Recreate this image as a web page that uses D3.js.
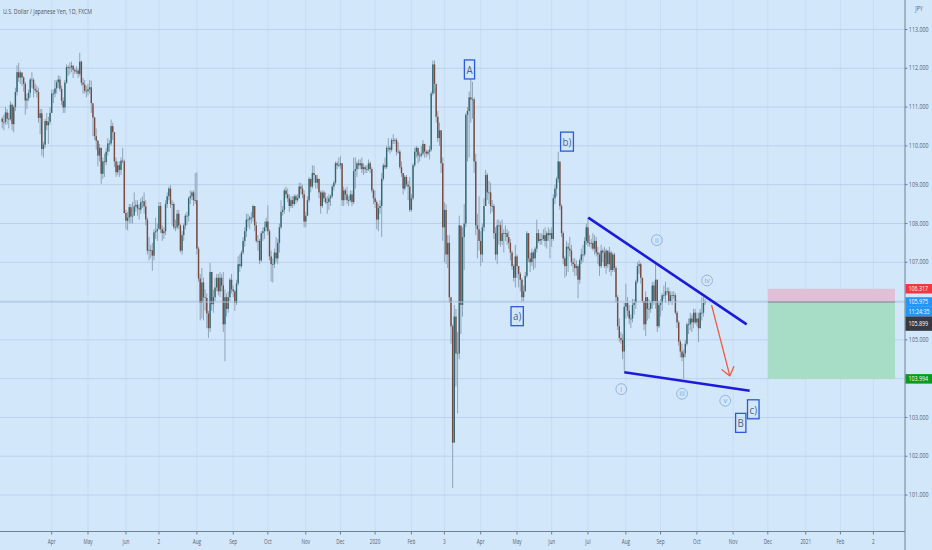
<!DOCTYPE html>
<html>
<head>
<meta charset="utf-8">
<script src="https://cdn.jsdelivr.net/npm/d3@7"></script>
<style>
  html, body { margin: 0; padding: 0; background: #d3e7fb; overflow: hidden; }
  text { font-family: "Open Sans", "Noto Sans", sans-serif; }
</style>
</head>
<body>
<svg id="chart" width="932" height="550"></svg>
<script>
// USD/JPY daily bars, FXCM, Feb 18 2019 -> Oct 8 2020 (one value per trading day)
const firstOpen = 110.70;
const closes = [
  110.62,110.62,110.86,110.70,110.69,111.06,110.56,111.00,111.39,
  111.90,111.76,111.89,111.76,111.60,111.17,111.22,111.37,111.71,111.70,111.47,111.43,111.39,110.72,110.84,109.92,110.03,110.64,110.53,110.62,110.85,
  111.35,111.35,111.48,111.64,111.71,111.47,111.16,110.99,111.63,112.03,112.02,112.02,112.07,111.96,111.92,111.94,111.86,112.17,111.63,111.58,111.42,111.41,
  111.46,111.51,111.10,110.73,110.25,110.13,109.75,109.95,109.28,109.60,109.58,109.85,110.06,110.06,110.51,110.35,109.60,109.32,109.50,109.38,109.62,109.60,108.27,
  108.07,108.15,108.42,108.18,108.20,108.44,108.48,108.39,108.36,108.55,108.57,108.44,108.10,107.30,107.32,107.31,107.17,107.77,107.80,107.85,
  108.45,107.85,107.75,107.80,108.50,108.70,108.90,108.50,108.50,107.90,107.90,108.25,107.95,107.30,107.70,107.95,108.20,108.20,108.65,108.70,108.80,108.60,108.60,
  107.35,106.58,105.95,106.48,106.10,106.08,105.68,105.30,106.75,105.92,106.10,106.35,106.60,106.25,106.60,106.40,105.40,106.10,105.80,106.10,106.55,106.30,
  106.25,105.95,106.45,106.95,106.90,107.25,107.55,107.80,108.10,108.10,108.15,108.15,108.45,107.95,107.55,107.55,107.05,107.75,107.80,107.90,108.05,
  107.80,107.15,106.95,106.95,107.25,107.10,107.50,107.90,108.30,108.35,108.85,108.75,108.65,108.45,108.60,108.50,108.70,108.60,108.65,108.95,108.90,108.75,108.05,
  108.20,108.60,109.15,108.95,109.30,109.25,109.05,109.15,108.80,108.45,108.80,108.65,108.55,108.55,108.65,108.70,108.95,109.05,109.55,109.50,109.50,
  109.55,108.60,108.85,108.75,108.60,108.60,108.75,108.55,109.35,109.40,109.55,109.50,109.55,109.40,109.45,109.40,109.40,109.55,109.40,108.85,108.65,
  108.55,108.10,108.40,108.45,109.15,109.50,109.45,109.95,109.95,109.90,110.15,110.15,110.15,109.85,109.85,109.45,109.30,108.90,109.20,109.00,108.95,108.35,
  108.65,109.50,109.85,109.95,109.75,109.75,109.80,110.05,109.85,109.80,109.85,109.90,111.35,112.10,111.60,110.75,110.20,110.40,109.55,107.90,
  108.35,107.20,107.50,106.10,105.35,102.35,105.60,104.65,104.65,107.95,105.90,107.65,108.00,110.80,110.90,111.25,111.20,111.20,109.60,107.95,107.85,107.55,
  107.20,107.90,108.45,109.25,108.80,108.80,108.45,108.45,107.75,107.20,107.95,107.95,107.55,107.75,107.75,107.75,107.65,107.50,107.25,106.90,106.60,107.15,
  106.90,106.70,106.55,106.10,106.25,106.65,107.75,107.10,107.00,107.25,107.10,107.35,107.75,107.55,107.60,107.60,107.70,107.55,107.75,107.70,107.75,
  107.60,108.65,108.90,109.15,109.60,108.45,107.75,107.10,106.90,107.40,107.35,107.30,107.00,106.95,106.85,106.90,106.55,107.05,107.20,107.20,107.55,107.90,
  107.50,107.50,107.50,107.35,107.55,107.25,107.20,106.90,107.30,107.25,106.90,107.30,106.95,107.25,106.80,107.20,106.85,106.10,105.35,105.05,105.00,104.70,105.85,
  105.95,105.75,105.55,105.55,105.90,105.95,106.50,106.90,106.95,106.60,106.00,105.40,106.10,105.80,105.80,105.95,106.40,106.00,106.55,105.35,105.90,
  105.95,106.15,106.15,106.25,106.25,106.00,106.15,106.15,106.15,105.70,105.45,104.95,104.70,104.55,104.65,104.90,105.40,105.40,105.55,105.45,105.70,105.45,
  105.55,105.30,105.70,105.70,105.95,105.975
];
const highs = [
  110.75,110.80,111.00,110.95,110.85,111.15,111.10,111.05,111.50,
  112.08,112.14,111.95,111.90,111.80,111.65,111.35,111.45,111.75,111.90,111.75,111.60,111.55,111.50,110.95,110.95,110.10,110.70,110.85,110.75,111.00,
  111.45,111.45,111.70,111.70,111.82,111.80,111.55,111.25,111.70,112.10,112.08,112.15,112.17,112.05,112.00,112.05,112.00,112.40,112.20,111.75,111.70,111.55,
  111.60,111.70,111.68,111.00,110.75,110.45,110.15,110.05,109.95,109.70,109.80,109.95,110.20,110.15,110.68,110.60,110.35,109.70,109.60,109.60,109.70,109.95,109.65,
  108.35,108.30,108.50,108.50,108.55,108.80,108.60,108.60,108.50,108.65,108.70,108.80,108.60,108.15,107.65,107.45,107.50,107.85,108.15,108.00,
  108.55,108.55,107.95,107.90,108.60,108.80,108.95,108.99,108.60,108.55,108.10,108.35,108.35,108.00,107.80,108.00,108.25,108.30,108.70,108.85,108.85,108.85,109.30,
  109.32,107.40,106.70,106.85,106.60,106.30,106.20,105.75,106.98,106.75,106.30,106.60,106.70,106.70,106.75,106.70,106.75,106.30,106.20,106.25,106.60,106.70,
  106.40,106.30,106.55,107.15,107.20,107.30,107.65,107.90,108.25,108.25,108.20,108.30,108.48,108.45,108.05,107.70,107.60,107.80,107.90,108.05,108.15,
  108.47,107.85,107.30,107.10,107.35,107.65,107.60,108.00,108.60,108.45,108.90,108.95,108.90,108.75,108.70,108.70,108.75,108.75,108.75,109.05,109.05,109.00,108.85,
  108.30,108.70,109.20,109.15,109.50,109.49,109.25,109.25,109.15,108.85,108.85,108.85,108.80,108.70,108.75,108.75,109.00,109.10,109.60,109.60,109.70,
  109.73,109.55,108.95,108.90,108.95,108.70,108.85,108.85,109.70,109.70,109.60,109.65,109.65,109.70,109.55,109.50,109.50,109.65,109.60,109.45,108.90,
  108.85,108.60,108.50,108.60,109.30,109.55,109.70,110.00,110.20,110.00,110.20,110.30,110.20,110.20,110.10,109.90,109.60,109.30,109.25,109.25,109.10,109.20,
  108.75,109.55,109.95,110.00,109.95,109.85,110.00,110.15,110.05,109.90,109.90,110.00,111.40,112.20,112.20,111.50,110.90,110.60,110.40,109.70,
  108.55,108.50,107.70,107.70,106.00,105.40,105.90,105.80,105.20,108.20,107.90,107.90,108.50,110.85,111.00,111.40,111.72,111.65,111.25,109.80,108.25,108.70,
  107.80,108.00,108.65,109.38,109.30,109.10,109.05,108.60,108.50,107.90,108.10,108.10,108.05,108.10,107.85,107.95,107.85,107.80,107.60,107.30,106.95,107.45,
  107.20,106.90,106.75,106.60,106.40,106.75,107.80,107.75,107.25,107.35,107.30,107.40,108.10,107.85,107.75,107.75,107.85,107.90,107.80,107.90,107.85,
  107.90,108.75,109.00,109.20,109.85,109.55,108.50,107.80,107.15,107.55,107.50,107.65,107.45,107.10,107.10,107.05,106.95,107.10,107.35,107.45,107.65,108.00,
  108.16,107.70,107.60,107.75,107.70,107.65,107.40,107.25,107.45,107.35,107.40,107.35,107.30,107.40,107.30,107.25,107.25,106.90,106.15,105.55,105.20,105.15,105.95,
  106.45,106.10,105.90,105.65,106.05,106.05,106.55,107.00,107.05,107.00,106.60,106.00,106.25,106.10,106.05,106.00,106.50,106.50,106.95,106.55,106.00,
  106.05,106.20,106.40,106.50,106.35,106.35,106.25,106.25,106.25,106.20,105.75,105.50,105.00,104.90,104.75,105.00,105.45,105.55,105.70,105.65,105.80,105.80,
  105.70,105.70,105.80,106.10,106.10,106.05
];
const lows = [
  110.45,110.40,110.55,110.55,110.45,110.65,110.40,110.35,110.90,
  111.30,111.65,111.60,111.55,111.40,110.80,110.95,111.15,111.25,111.50,111.25,111.35,111.25,110.60,110.30,109.75,109.70,109.95,110.40,110.05,110.55,
  110.85,111.10,111.25,111.35,111.50,111.40,111.05,110.85,110.85,111.60,111.80,111.85,111.90,111.75,111.85,111.85,111.75,111.80,111.55,111.35,111.35,111.25,
  111.30,111.35,110.85,110.25,110.15,109.90,109.47,109.60,109.02,109.15,109.20,109.50,109.75,109.85,110.00,110.15,109.45,109.20,109.25,109.20,109.25,109.55,108.25,
  107.85,107.82,108.00,108.00,108.00,108.30,108.30,108.20,108.10,108.25,108.40,108.25,107.95,107.20,107.05,107.10,106.78,107.05,107.60,107.55,
  107.90,107.75,107.55,107.60,107.70,108.40,108.60,108.40,107.95,107.85,107.80,107.85,107.85,107.25,107.20,107.55,107.85,107.95,108.05,108.50,108.60,108.45,108.50,
  107.20,106.50,105.50,105.55,105.50,105.75,105.30,105.05,105.20,105.75,105.70,106.00,106.25,106.15,106.10,106.25,105.20,104.45,105.60,105.70,106.00,106.20,
  106.10,105.75,105.90,106.40,106.75,106.85,107.20,107.40,107.65,107.90,107.85,108.00,108.05,107.80,107.50,107.30,106.95,107.00,107.55,107.60,107.80,
  107.70,107.05,106.50,106.48,106.85,107.00,106.95,107.25,107.85,108.20,108.25,108.65,108.55,108.30,108.40,108.40,108.45,108.50,108.55,108.65,108.75,108.65,107.90,
  107.90,108.20,108.55,108.80,108.90,109.05,108.90,108.90,108.65,108.25,108.40,108.55,108.50,108.25,108.35,108.45,108.65,108.85,109.00,109.40,109.45,
  109.40,108.45,108.45,108.60,108.50,108.45,108.55,108.45,108.50,108.90,109.20,109.40,109.40,109.30,109.25,109.30,109.30,109.35,109.30,108.80,108.50,
  108.40,107.85,107.80,108.25,107.65,109.10,109.40,109.40,109.85,109.80,109.85,110.05,110.05,109.75,109.80,109.40,109.20,108.75,108.85,108.95,108.60,108.30,
  108.30,108.60,109.45,109.70,109.55,109.60,109.70,109.75,109.70,109.70,109.75,109.65,109.85,111.30,111.35,110.60,110.10,110.00,109.30,107.55,
  107.00,106.95,106.85,105.95,104.90,101.18,102.50,103.80,103.10,104.50,105.15,105.60,106.80,107.90,109.60,109.70,110.60,110.70,109.30,107.70,107.10,107.30,
  106.90,107.00,107.80,108.45,108.60,108.50,108.25,108.30,107.60,107.05,106.95,107.45,107.40,107.45,107.25,107.55,107.45,107.35,107.05,106.80,106.50,106.35,
  106.60,106.35,106.25,105.98,106.00,106.25,106.60,107.00,106.75,106.90,106.80,106.85,107.25,107.50,107.45,107.45,107.55,107.40,107.35,107.55,107.10,
  107.40,107.55,108.50,108.70,109.05,108.35,107.65,106.95,106.60,106.65,106.75,107.15,106.90,106.75,106.65,106.65,106.07,106.45,106.95,107.00,107.15,107.45,
  107.40,107.40,107.35,107.30,107.20,107.15,106.95,106.65,106.85,107.00,106.85,106.70,106.85,106.75,106.65,106.75,106.75,105.95,105.25,104.95,104.90,104.50,104.19,
  105.55,105.60,105.40,105.30,105.45,105.65,105.80,106.45,106.70,106.45,105.95,105.25,105.10,105.50,105.55,105.70,105.80,105.90,105.80,105.20,105.30,
  105.60,105.75,106.05,105.95,106.15,105.90,105.95,105.90,106.05,105.65,105.30,104.85,104.55,104.45,104.00,104.55,104.85,105.15,105.25,105.20,105.30,105.40,
  105.35,104.94,105.30,105.50,105.60,105.90
];

// time axis: first trading day of each month, labels as printed
const monthTicks = [
  ["2019-04","Apr"],["2019-05","May"],["2019-06","Jun"],["2019-07","2"],["2019-08","Aug"],["2019-09","Sep"],
  ["2019-10","Oct"],["2019-11","Nov"],["2019-12","Dec"],["2020-01","2020"],["2020-02","Feb"],["2020-03","3"],
  ["2020-04","Apr"],["2020-05","May"],["2020-06","Jun"],["2020-07","Jul"],["2020-08","Aug"],["2020-09","Sep"],
  ["2020-10","Oct"],["2020-11","Nov"],["2020-12","Dec"],["2021-01","2021"],["2021-02","Feb"],["2021-03","2"]
];
const gridPrices = [101,102,103,104,105,106,107,108,109,110,111,112,113];
const priceTicks = [101,102,103,105,107,108,109,110,111,112,113];

// drawings, in bar index / price
const trendLines = [
  [[355.2,108.15],[451.2,105.40]],
  [[377.0,104.165],[453.0,103.69]]
];
const arrowPath = [[430.0,105.88],[441.0,104.07]];
const boxLabels = [
  {t:"A", i:283.2, p:111.97},
  {t:"b)", i:342.3, p:110.11},
  {t:"a)", i:312.1, p:105.61},
  {t:"B", i:447.6, p:102.86},
  {t:"c)", i:455.2, p:103.21}
];
const circleLabels = [
  {t:"ii", i:396.8, p:107.57},
  {t:"iv", i:427.2, p:106.53},
  {t:"i", i:375.2, p:103.73},
  {t:"iii", i:412.0, p:103.61},
  {t:"v", i:438.2, p:103.43}
];
const position = {from: 464.1, to: 541.1, stop: 106.317, entry: 105.975, target: 103.994};
const lastPrice = 105.975, countdown = "11:24:35", prevPrice = "105.899";

const barDomain = [-1.33, 547.15];
const priceDomain = [100.06, 113.76];

// trading days (weekdays, no Dec 25 / Jan 1 bars)
const skipDays = ["2019-12-25","2020-01-01"];
const days = [];
for (let d = new Date(Date.UTC(2019,1,18)); days.length < 560; d.setUTCDate(d.getUTCDate() + 1)) {
  const wd = d.getUTCDay();
  const key = d.toISOString().slice(0,10);
  if (wd === 0 || wd === 6 || skipDays.includes(key)) continue;
  days.push(key);
}

const plotW = 905, plotH = 531.5;
const svg = d3.select("#chart");
const x = d3.scaleLinear().domain(barDomain).range([0, plotW]);
const y = d3.scaleLinear().domain(priceDomain).range([plotH, 0]);

svg.append("rect").attr("width", 932).attr("height", 550).attr("fill", "#d3e7fb");

const monthIdx = monthTicks.map(([ym, label]) => ({i: days.findIndex(k => k.startsWith(ym)), label}));

// grid
svg.append("g").selectAll("line").data(monthIdx).join("line")
  .attr("x1", d => x(d.i)).attr("x2", d => x(d.i))
  .attr("y1", 0).attr("y2", plotH)
  .attr("stroke", "#c8ddf2").attr("stroke-width", 1);
svg.append("g").selectAll("line").data(gridPrices).join("line")
  .attr("x1", 0).attr("x2", plotW)
  .attr("y1", d => y(d)).attr("y2", d => y(d))
  .attr("stroke", "#bbd2ea").attr("stroke-width", 1);

// candles
const bars = closes.map((c, i) => ({i, o: i === 0 ? firstOpen : closes[i - 1], c, h: highs[i], l: lows[i]}));
svg.append("g").selectAll("line").data(bars).join("line")
  .attr("x1", d => x(d.i)).attr("x2", d => x(d.i))
  .attr("y1", d => y(d.h)).attr("y2", d => y(d.l))
  .attr("stroke", "#8ea4b6").attr("stroke-width", 1);
svg.append("g").selectAll("rect").data(bars).join("rect")
  .attr("x", d => x(d.i) - 0.7)
  .attr("width", 1.4)
  .attr("y", d => y(Math.max(d.o, d.c)))
  .attr("height", d => Math.max(0.8, Math.abs(y(d.o) - y(d.c))))
  .attr("fill", d => d.c >= d.o ? "#2f6870" : "#77493f");

// last price line
svg.append("line")
  .attr("x1", 0).attr("x2", plotW)
  .attr("y1", y(lastPrice)).attr("y2", y(lastPrice))
  .attr("stroke", "#abc3da").attr("stroke-width", 1);

// long/short position tool
const pos = svg.append("g");
pos.append("rect")
  .attr("x", x(position.from)).attr("width", x(position.to) - x(position.from))
  .attr("y", y(position.stop)).attr("height", y(position.entry) - y(position.stop))
  .attr("fill", "#dfc0d6");
pos.append("rect")
  .attr("x", x(position.from)).attr("width", x(position.to) - x(position.from))
  .attr("y", y(position.entry)).attr("height", y(position.target) - y(position.entry))
  .attr("fill", "#a7dcc6");
pos.append("line")
  .attr("x1", x(position.from)).attr("x2", x(position.to))
  .attr("y1", y(position.entry)).attr("y2", y(position.entry))
  .attr("stroke", "#76838f").attr("stroke-width", 1);

// trend lines
svg.append("g").selectAll("line").data(trendLines).join("line")
  .attr("x1", d => x(d[0][0])).attr("y1", d => y(d[0][1]))
  .attr("x2", d => x(d[1][0])).attr("y2", d => y(d[1][1]))
  .attr("stroke", "#1b1bd9").attr("stroke-width", 2.6);

// red arrow
const ax0 = x(arrowPath[0][0]), ay0 = y(arrowPath[0][1]);
const ax1 = x(arrowPath[1][0]), ay1 = y(arrowPath[1][1]);
const back = Math.atan2(ay0 - ay1, ax0 - ax1);
const headLen = 10, headAng = 0.65;
svg.append("path")
  .attr("d", `M${ax0},${ay0}L${ax1},${ay1}` +
    `M${ax1 + headLen * Math.cos(back - headAng)},${ay1 + headLen * Math.sin(back - headAng)}L${ax1},${ay1}` +
    `L${ax1 + headLen * Math.cos(back + headAng)},${ay1 + headLen * Math.sin(back + headAng)}`)
  .attr("fill", "none").attr("stroke", "#f05a42").attr("stroke-width", 1.3)
  .attr("stroke-linecap", "round").attr("stroke-linejoin", "round");

// wave labels: circles
const circ = svg.append("g").selectAll("g").data(circleLabels).join("g")
  .attr("transform", d => `translate(${x(d.i)},${y(d.p)})`);
circ.append("circle").attr("r", 5.4).attr("fill", "none").attr("stroke", "#93b4d8").attr("stroke-width", 1);
circ.append("text").attr("text-anchor", "middle").attr("y", 2.5)
  .attr("font-size", 7.2).attr("fill", "#86a8cc").text(d => d.t);

// wave labels: boxes
const box = svg.append("g").selectAll("g").data(boxLabels).join("g")
  .attr("transform", d => `translate(${x(d.i)},${y(d.p)})`);
const boxText = box.append("text").attr("text-anchor", "middle").attr("y", 4.2)
  .attr("font-size", 11.5).attr("fill", "#4a6488")
  .attr("transform", "scale(0.85,1)").text(d => d.t);
boxText.each(function (d) { d.w = this.getComputedTextLength() * 0.85 + 4; });
box.insert("rect", "text")
  .attr("x", d => -d.w / 2).attr("width", d => d.w)
  .attr("y", -9.5).attr("height", 19)
  .attr("fill", "none").attr("stroke", "#2b5bd6").attr("stroke-width", 1.3);

// axes frame
svg.append("line").attr("x1", 0).attr("x2", plotW).attr("y1", plotH).attr("y2", plotH)
  .attr("stroke", "#6e8195").attr("stroke-width", 1);
svg.append("line").attr("x1", plotW).attr("x2", plotW).attr("y1", 0).attr("y2", 550)
  .attr("stroke", "#6e8195").attr("stroke-width", 1);

// time axis
const tAxis = svg.append("g").selectAll("g").data(monthIdx).join("g")
  .attr("transform", d => `translate(${x(d.i)},${plotH})`);
tAxis.append("line").attr("y1", 0).attr("y2", 3).attr("stroke", "#6e8195");
tAxis.append("text").attr("text-anchor", "middle").attr("y", 12.5)
  .attr("font-size", 6.5).attr("fill", "#55636f")
  .attr("transform", "scale(0.72,1)").text(d => d.label);

// price axis
const pAxis = svg.append("g").selectAll("g").data(priceTicks).join("g")
  .attr("transform", d => `translate(${plotW},${y(d)})`);
pAxis.append("line").attr("x1", 0).attr("x2", 2.5).attr("stroke", "#6e8195");
pAxis.append("text").attr("x", 4.5).attr("y", 2.2)
  .attr("font-size", 6.2).attr("fill", "#55636f")
  .attr("transform", "scale(0.86,1)")
  .text(d => d3.format(".3f")(d));

// price badges
function badge(yc, h, bg, label) {
  svg.append("rect").attr("x", plotW + 0.5).attr("width", 932 - plotW).attr("y", yc - h / 2).attr("height", h).attr("fill", bg);
  svg.append("text").attr("x", (plotW + 3.5) / 0.86).attr("y", yc + 2.2)
    .attr("font-size", 6.2).attr("fill", "#ffffff").attr("transform", "scale(0.86,1)").text(label);
}
badge(y(position.stop), 9.5, "#f23645", d3.format(".3f")(position.stop));
badge(y(lastPrice), 9.6, "#2196f3", d3.format(".3f")(lastPrice));
badge(y(lastPrice) + 9.6, 9.6, "#2196f3", countdown);
badge(y(lastPrice) + 21.6, 14.4, "#363a45", prevPrice);
badge(y(position.target), 9.5, "#089b1e", d3.format(".3f")(position.target));

// title, currency
svg.append("text").attr("x", 3).attr("y", 13.5)
  .attr("font-size", 7).attr("fill", "#4a5561")
  .attr("textLength", 89).attr("lengthAdjust", "spacingAndGlyphs")
  .text("U.S. Dollar / Japanese Yen, 1D, FXCM");
svg.append("text").attr("x", 919).attr("y", 11).attr("text-anchor", "middle")
  .attr("font-size", 6.2).attr("fill", "#55636f")
  .attr("transform", "translate(128.7,0) scale(0.86,1)").text("JPY");
</script>
</body>
</html>
